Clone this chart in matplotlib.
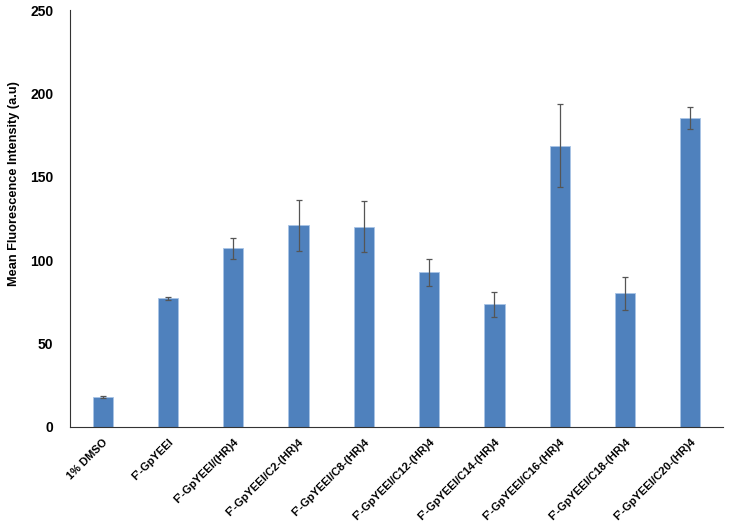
import matplotlib
matplotlib.use("Agg")
import matplotlib.pyplot as plt
import numpy as np

categories = ["1% DMSO", "F'-GpYEEI", "F'-GpYEEI/(HR)4", "F'-GpYEEI/C2-(HR)4",
              "F'-GpYEEI/C8-(HR)4", "F'-GpYEEI/C12-(HR)4", "F'-GpYEEI/C14-(HR)4",
              "F'-GpYEEI/C16-(HR)4", "F'-GpYEEI/C18-(HR)4", "F'-GpYEEI/C20-(HR)4"]
values = [18.2, 77.2, 107.2, 121.0, 120.2, 92.7, 73.5, 168.6, 80.1, 185.3]
errors = [0.6, 1.0, 6.3, 15.3, 15.0, 8.0, 7.4, 25.0, 9.8, 6.8]
yticks = [0, 50, 100, 150, 200, 250]

plt.rcParams['font.family'] = ['Liberation Sans', 'DejaVu Sans']

fig = plt.figure(figsize=(7.29, 5.23), dpi=100)
ax = fig.add_axes([70/729, 1-427/523, 653/729, 417/523])

x = np.arange(len(categories))
ax.bar(x, values, width=0.31, color='#4F81BD', edgecolor='#A9C4E6', linewidth=0.6,
       yerr=errors, error_kw=dict(ecolor='#555555', elinewidth=0.9, capsize=2, capthick=0.9))

ax.set_xlim(-0.5, len(categories) - 0.5)
ax.set_ylim(0, 250)
ax.set_yticks(yticks)
ax.set_yticklabels([str(t) for t in yticks], fontsize=10, fontweight='bold')
ax.set_xticks(x)
ax.set_xticklabels(categories, rotation=45, ha='right', rotation_mode='anchor',
                   fontsize=8, fontweight='bold')
ax.tick_params(axis='x', length=0, pad=7)
ax.tick_params(axis='y', length=0, pad=12)
ax.spines['top'].set_visible(False)
ax.spines['right'].set_visible(False)
ax.spines['left'].set_color('#333333')
ax.spines['bottom'].set_color('#333333')
ax.set_ylabel('Mean Fluorescence Intensity (a.u)', fontsize=9.2, fontweight='bold', labelpad=5)
ax.yaxis.set_label_coords(-0.077, 0.583)

fig.savefig('out.png', dpi=100)
